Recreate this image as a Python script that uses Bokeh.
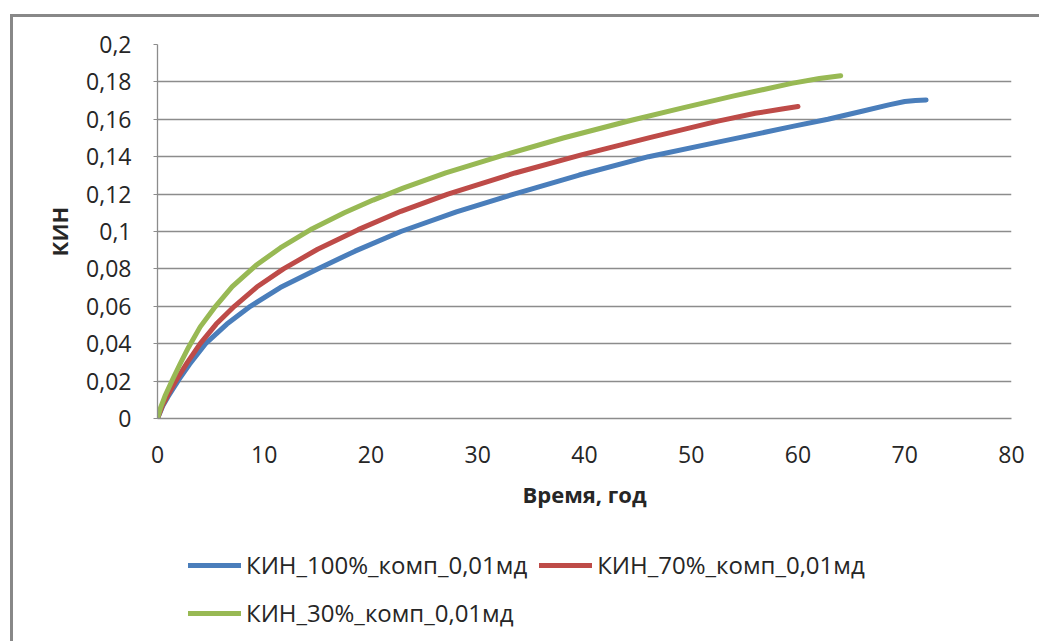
from bokeh.plotting import figure
from bokeh.layouts import column
from bokeh.models import Range1d, FixedTicker, CustomJSTickFormatter, Legend, LegendItem
from bokeh.embed import file_html
from bokeh.resources import INLINE

# Data
t_100 = [0, 0.5, 1, 2, 3, 4.5, 6.5, 8.7, 11.5, 15, 18.5, 22.8, 28, 33.4, 39.5, 46, 52.5, 59.5, 62.8,
         66, 68.5, 70, 71, 72]
kin_100 = [0, 0.0068, 0.0118, 0.0208, 0.029, 0.04, 0.0505, 0.06, 0.07, 0.08, 0.0895, 0.10, 0.1105, 0.12,
           0.1302, 0.14, 0.1478, 0.1562, 0.16, 0.1643, 0.1677, 0.1695, 0.1701, 0.1703]

t_70 = [0, 0.5, 1, 1.7, 2.8, 4, 5.5, 7.2, 9.3, 11.8, 15, 18.8, 22.8, 27.2, 33.5, 39.7, 46.2, 52.5, 56,
        58.5, 60]
kin_70 = [0, 0.0075, 0.0128, 0.02, 0.03, 0.04, 0.0505, 0.06, 0.0703, 0.08, 0.0905, 0.101, 0.1108, 0.12,
          0.1313, 0.141, 0.1503, 0.159, 0.1632, 0.1655, 0.1668]

t_30 = [0, 0.3, 0.7, 1.38, 2.1, 2.9, 4, 5.3, 7, 9.2, 11.5, 14.5, 17.5, 20.2, 23, 27, 32.5, 38, 44.4, 49.1,
        54, 59.4, 62, 64]
kin_30 = [0, 0.006, 0.012, 0.0205, 0.029, 0.038, 0.049, 0.059, 0.0705, 0.0818, 0.0912, 0.1015, 0.11,
          0.1168, 0.1232, 0.1314, 0.141, 0.15, 0.1595, 0.166, 0.1725, 0.1792, 0.1818, 0.1833]

series_names = ["КИН_100%_комп_0,01мд", "КИН_70%_комп_0,01мд", "КИН_30%_комп_0,01мд"]
series_colors = ["#4A7EBB", "#BE4B48", "#98B954"]

x_ticks = [0, 10, 20, 30, 40, 50, 60, 70, 80]
y_ticks = [0, 0.02, 0.04, 0.06, 0.08, 0.1, 0.12, 0.14, 0.16, 0.18, 0.2]

FONT = "Open Sans"
TEXT = "#262626"
GRID = "#8C8C8C"
W = 1036  # figures start at page x = 13; right part runs past the window edge like the reference

p = figure(width=W, height=505, output_backend="svg", toolbar_location=None,
           x_range=Range1d(0, 80), y_range=Range1d(0, 0.2),
           min_border_left=144, min_border_right=W + 13 - 1011, min_border_top=27, min_border_bottom=104)
p.outline_line_color = None
p.background_fill_color = "white"
p.border_fill_color = "white"

renderers = []
for xs, ys, c in zip([t_100, t_70, t_30], [kin_100, kin_70, kin_30], series_colors):
    r = p.line(xs, ys, line_color=c, line_width=5, line_cap="round", line_join="round")
    renderers.append(r)

p.xgrid.grid_line_color = None
p.ygrid.grid_line_color = GRID
p.ygrid.grid_line_width = 1.3
p.ygrid.ticker = FixedTicker(ticks=y_ticks)

p.xaxis.ticker = FixedTicker(ticks=x_ticks)
p.yaxis.ticker = FixedTicker(ticks=y_ticks)
fmt = CustomJSTickFormatter(code="return String(Math.round(tick*100)/100).replace('.', ',');")
p.xaxis.formatter = fmt
p.yaxis.formatter = fmt

for ax in (p.xaxis[0], p.yaxis[0]):
    ax.axis_line_color = GRID
    ax.axis_line_width = 1.3
    ax.major_tick_line_color = GRID
    ax.minor_tick_line_color = None
    ax.major_label_text_font = FONT
    ax.major_label_text_font_size = "23px"
    ax.major_label_text_color = TEXT
    ax.axis_label_text_font = FONT
    ax.axis_label_text_font_size = "22px"
    ax.axis_label_text_font_style = "bold"
    ax.axis_label_text_color = TEXT

p.xaxis.major_tick_out = 0
p.xaxis.major_tick_in = 0
p.xaxis.major_label_standoff = 27
p.xaxis.axis_label = "Время, год"
p.xaxis.axis_label_standoff = 13

p.yaxis.major_tick_out = 4
p.yaxis.major_tick_in = 0
p.yaxis.major_label_standoff = 22
p.yaxis.axis_label = "КИН"
p.yaxis.axis_label_standoff = 9

# legend panel (second figure, no axes; its frame is aligned with the chart frame)
pl = figure(width=W, height=119, output_backend="svg", toolbar_location=None,
            x_range=Range1d(0, 1), y_range=Range1d(0, 1),
            min_border=0, x_axis_location=None, y_axis_location=None)
pl.outline_line_color = None
pl.xgrid.visible = False
pl.ygrid.visible = False
pl.background_fill_color = "white"
pl.border_fill_color = "white"
proxies = [pl.line([-5, -4], [-5, -4], line_color=c, line_width=5, line_cap="round") for c in series_colors]


def make_legend(idx, loc):
    lg = Legend(items=[LegendItem(label=series_names[i], renderers=[proxies[i]]) for i in idx],
                location=loc, orientation="horizontal")
    lg.label_text_font = FONT
    lg.label_text_font_size = "24px"
    lg.label_text_color = TEXT
    lg.glyph_width = 53
    lg.glyph_height = 30
    lg.label_height = 30
    lg.label_standoff = 5
    lg.spacing = 12
    lg.padding = 0
    lg.margin = 0
    lg.border_line_color = None
    lg.background_fill_alpha = 0
    return lg


pl.add_layout(make_legend([0, 1], (31, 60)), "center")
pl.add_layout(make_legend([2], (31, 12)), "center")

layout = column(p, pl, spacing=0)
layout.margin = (14, 0, 0, 10)
layout.styles = {"border-left": "3px solid #888888", "border-top": "3px solid #888888"}

open("out.html", "w").write(file_html(layout, INLINE))
